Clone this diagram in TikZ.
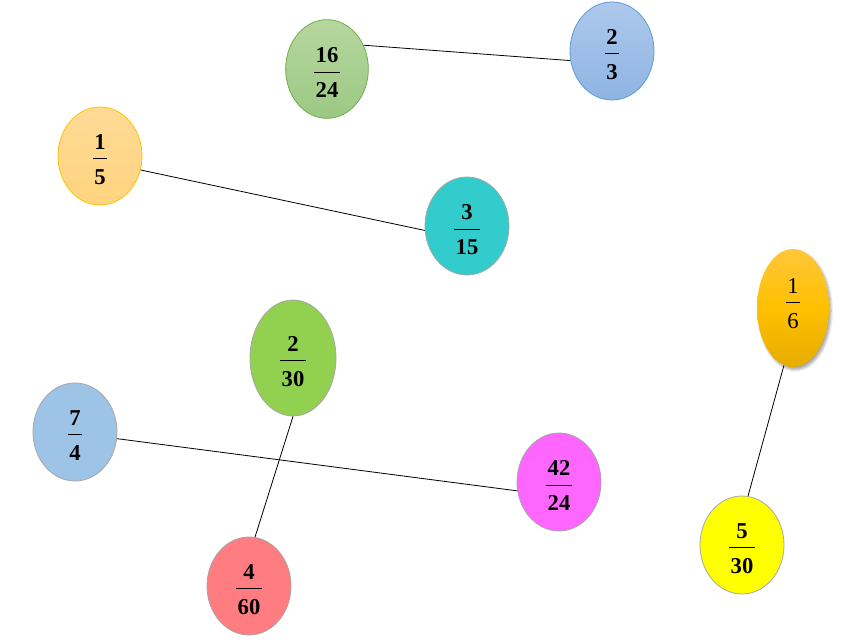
\documentclass[tikz,border=0pt]{standalone}
\usepackage{fontspec}
\setmainfont{Liberation Serif}
\usetikzlibrary{shapes.geometric,shadows.blur}
\definecolor{gTop}{HTML}{B6D7A0}
\definecolor{gBot}{HTML}{9CC883}
\definecolor{gLine}{HTML}{70AD47}
\definecolor{bTop}{HTML}{AEC8EC}
\definecolor{bBot}{HTML}{8EB4E3}
\definecolor{bLine}{HTML}{5B9BD5}
\definecolor{oTop}{HTML}{FFDA96}
\definecolor{oBot}{HTML}{FFD47F}
\definecolor{oLine}{HTML}{FFC000}
\definecolor{teal}{HTML}{33CCCC}
\definecolor{yTop}{HTML}{FFC73A}
\definecolor{yMid}{HTML}{FFC000}
\definecolor{yBot}{HTML}{E6AC00}
\definecolor{lgreen}{HTML}{92D050}
\definecolor{lblue}{HTML}{9DC3E6}
\definecolor{magenta2}{HTML}{FF66FF}
\definecolor{salmon}{HTML}{FF7C80}
\definecolor{yellow2}{HTML}{FFFF00}
\definecolor{greyline}{HTML}{A6A6A6}
\newlength{\frw}
\newlength{\frwb}
% #1 top kern, #2 bottom kern, #3 numerator, #4 denominator
\newcommand{\myfrgen}[4]{%
  \settowidth{\frw}{#3}\settowidth{\frwb}{#4}%
  \ifdim\frwb>\frw\setlength{\frw}{\frwb}\fi
  \addtolength{\frw}{1.8pt}%
  \vbox{\kern#1\hbox to\frw{\hss#3\hss}\kern6.5pt\hrule width\frw height 0.75pt\kern7.5pt\hbox to\frw{\hss#4\hss}\kern#2}}
\newcommand{\myfr}[2]{\myfrgen{5.5pt}{0pt}{#1}{#2}}
\newcommand{\myfrup}[2]{\myfrgen{0pt}{6.75pt}{#1}{#2}}
\tikzset{
  frac/.style={ellipse, inner sep=0pt, font=\fontsize{17}{19}\selectfont\bfseries,
    minimum width=63pt, minimum height=73.5pt, draw=greyline, line width=0.6pt},
  link/.style={draw=black, line width=0.6pt}
}
\begin{document}
\begin{tikzpicture}[x=0.75pt,y=-0.75pt]
\useasboundingbox (0,0) rectangle (863,641);
\node[frac, draw=gLine, top color=gTop, bottom color=gBot, minimum width=62pt, minimum height=74pt] (a) at (327,69) {\myfr{16}{24}};
\node[frac, draw=bLine, top color=bTop, bottom color=bBot] (b) at (612,51) {\myfr{2}{3}};
\node[frac, draw=oLine, top color=oTop, bottom color=oBot] (c) at (100,156) {\myfr{1}{5}};
\node[frac, fill=teal] (d) at (467,226) {\myfr{3}{15}};
\node[frac, draw=none, minimum width=54pt, minimum height=88.5pt, top color=yTop, bottom color=yBot, middle color=yMid,
  blur shadow={shadow xshift=1.5pt, shadow yshift=-2pt, shadow blur steps=6, shadow opacity=35},
  font=\fontsize{17}{19}\selectfont] (e) at (793,308) {\myfrup{1}{6}};
\node[frac, fill=lgreen, minimum width=64.5pt, minimum height=87pt] (f) at (293,358) {\myfr{2}{30}};
\node[frac, fill=lblue] (g) at (75,432) {\myfr{7}{4}};
\node[frac, fill=magenta2] (h) at (559,482) {\myfr{42}{24}};
\node[frac, fill=salmon] (i) at (249,586) {\myfr{4}{60}};
\node[frac, fill=yellow2] (j) at (742,545) {\myfr{5}{30}};
\draw[link] (a.33) -- (b.193);
\draw[link] (c.341) -- (d.186);
\draw[link] (g.351) -- (h.192);
\draw[link] (f.270) -- (i.83);
\draw[link] (e.261) -- (j.83);
\end{tikzpicture}
\end{document}
